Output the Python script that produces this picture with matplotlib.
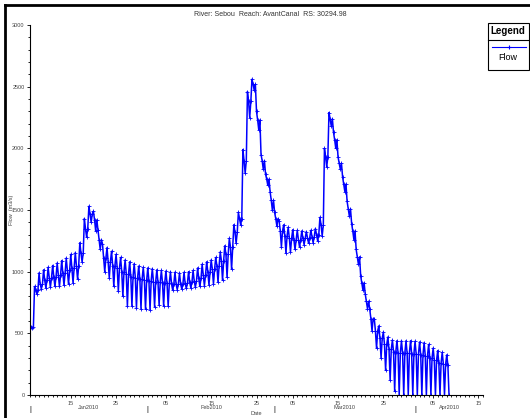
import numpy as np
import matplotlib
matplotlib.use("Agg")
import matplotlib.pyplot as plt
import matplotlib.dates as mdates
from matplotlib.lines import Line2D
from matplotlib.patches import Rectangle
from matplotlib.transforms import blended_transform_factory

plt.rcParams['font.family'] = ['Liberation Sans', 'DejaVu Sans']

# Daily high / low of the hourly flow (m3/s), day 0 = 06 Jan 2010
start_date = np.datetime64('2010-01-06T00:00')
flow_high = [560, 880, 990, 1015, 1035, 1050, 1070, 1090, 1110, 1140,
             1155, 1235, 1430, 1530, 1490, 1340, 1225, 1195, 1165, 1140,
             1115, 1095, 1080, 1065, 1045, 1035, 1030, 1025, 1015, 1010,
             1005, 1000, 995, 990, 995, 1000, 1010, 1030, 1060, 1080,
             1095, 1115, 1160, 1210, 1270, 1380, 1480, 1990, 2460, 2560,
             2300, 1950, 1790, 1650, 1480, 1410, 1380, 1360, 1340, 1335,
             1330, 1325, 1335, 1350, 1440, 2000, 2290, 2130, 1930, 1770,
             1570, 1390, 1180, 965, 820, 695, 620, 560, 510, 470,
             445, 440, 440, 440, 440, 435, 430, 425, 410, 380,
             360, 345, 325]
# lower edge of the dense part of the band
flow_band = [550, 850, 900, 930, 950, 960, 975, 990, 1010, 1030,
             1050, 1150, 1350, 1470, 1420, 1260, 1110, 1080, 1050, 1030,
             1000, 980, 960, 950, 940, 930, 925, 920, 915, 910,
             905, 900, 900, 900, 905, 915, 925, 945, 975, 1000,
             1020, 1050, 1090, 1140, 1200, 1320, 1430, 1900, 2380, 2520,
             2230, 1900, 1750, 1580, 1430, 1330, 1290, 1270, 1260, 1260,
             1270, 1275, 1285, 1300, 1380, 1930, 2240, 2070, 1880, 1710,
             1510, 1330, 1120, 910, 760, 620, 520, 460, 410, 370,
             350, 340, 340, 340, 335, 330, 325, 320, 300, 280,
             260, 250, 240]
flow_low = [540, 820, 860, 870, 875, 880, 880, 890, 900, 910,
            940, 1080, 1280, 1400, 1330, 1180, 1000, 950, 880, 840,
            800, 720, 720, 705, 700, 695, 690, 715, 730, 720,
            720, 850, 855, 860, 865, 870, 875, 880, 885, 895,
            900, 915, 930, 955, 1020, 1230, 1380, 1800, 2250, 2470,
            2150, 1830, 1700, 1500, 1370, 1200, 1150, 1160, 1180, 1200,
            1220, 1230, 1235, 1250, 1290, 1850, 2180, 2000, 1830, 1650,
            1450, 1260, 1060, 850, 700, 520, 380, 300, 200, 120,
            30, 0, 0, 0, 0, 0, 0, 0, 0, 0,
            0, 0, 0]

month_starts = ['2010-02-01', '2010-03-01', '2010-04-01']
month_labels = ['Jan2010', 'Feb2010', 'Mar2010', 'Apr2010']
x_end = np.datetime64('2010-04-16T00:00')

# per day: high, band, low, band (6-hourly steps)
t = []
q = []
for d in range(len(flow_high)):
    for h, v in zip([0, 6, 12, 18], [flow_high[d], flow_band[d], flow_low[d], flow_band[d]]):
        t.append(start_date + np.timedelta64(d * 24 + h, 'h'))
        q.append(v)
t = np.array(t[:-1]).astype('datetime64[m]').astype(object)
q = q[:-1]

fig = plt.figure(figsize=(5.30, 4.18), dpi=100)
ax = fig.add_axes([30 / 530, 1 - 395 / 418, 453 / 530, 370 / 418])

ax.plot(t, q, color='#0000ff', lw=1.1, marker='+', ms=2.6, mew=0.6)

ax.set_xlim(start_date.astype(object), x_end.astype(object))
ax.set_ylim(0, 3000)
for s in ['top', 'right']:
    ax.spines[s].set_visible(False)
for s in ['left', 'bottom']:
    ax.spines[s].set_linewidth(0.8)

ax.set_yticks(np.arange(0, 3001, 500))
ax.set_yticks(np.arange(0, 3001, 100), minor=True)
ax.xaxis.set_major_locator(mdates.DayLocator(bymonthday=[5, 15, 25]))
ax.xaxis.set_major_formatter(mdates.DateFormatter('%d'))
ax.xaxis.set_minor_locator(mdates.DayLocator())
ax.tick_params(axis='both', which='major', labelsize=4, length=2.5, width=0.6, pad=1.5, colors='black')
ax.tick_params(axis='both', which='minor', length=1.5, width=0.6)
for lab in ax.get_yticklabels():
    lab.set_color('#444444')
for lab in ax.get_xticklabels():
    lab.set_color('#444444')

# month row under the day ticks
tr = blended_transform_factory(ax.transData, ax.transAxes)
edges = [start_date.astype(object)] + [np.datetime64(m + 'T00:00').astype(object) for m in month_starts] + [x_end.astype(object)]
edge_num = [mdates.date2num(e) for e in edges]
for i, lab in enumerate(month_labels):
    mid = (edge_num[i] + edge_num[i + 1]) / 2
    ax.text(mid, -0.034, lab, transform=tr, fontsize=4, ha='center', va='center', color='#444444')
for e in edge_num[:-1]:
    ax.text(e, -0.04, '|', transform=tr, fontsize=5, ha='center', va='center', color='black')

ax.text(0.5, -0.05, 'Date', transform=ax.transAxes, fontsize=4, ha='center', va='center', color='#444444')
fig.text(11 / 530, 1 - 210 / 418, 'Flow  (m3/s)', fontsize=4, rotation=90,
         ha='center', va='center', color='#444444')

fig.text(270 / 530, 1 - 14 / 418, 'River: Sebou  Reach: AvantCanal  RS: 30294.98',
         fontsize=5, ha='center', va='center', color='#333333')

# legend box
fig.patches.append(Rectangle((488 / 530, 1 - 70 / 418), 41 / 530, 47 / 418, transform=fig.transFigure,
                             fill=False, edgecolor='black', lw=0.8))
fig.lines.append(Line2D([488 / 530, 529 / 530], [1 - 40 / 418] * 2, transform=fig.transFigure,
                        color='black', lw=0.8))
fig.text(508 / 530, 1 - 31 / 418, 'Legend', fontsize=7, fontweight='bold', ha='center', va='center')
fig.lines.append(Line2D([492 / 530, 526 / 530], [1 - 47 / 418] * 2, transform=fig.transFigure,
                        color='#0000ff', lw=0.8))
fig.lines.append(Line2D([509 / 530], [1 - 47 / 418], transform=fig.transFigure,
                        color='#0000ff', marker='+', ms=3, mew=0.8))
fig.text(508 / 530, 1 - 58 / 418, 'Flow', fontsize=6.5, ha='center', va='center')

# outer frame (top and left edges visible)
fig.lines.append(Line2D([5 / 530, 1.0], [1 - 5 / 418] * 2, transform=fig.transFigure, color='black', lw=2))
fig.lines.append(Line2D([5 / 530] * 2, [0, 1 - 5 / 418], transform=fig.transFigure, color='black', lw=2))

fig.savefig('out.png', dpi=100)
